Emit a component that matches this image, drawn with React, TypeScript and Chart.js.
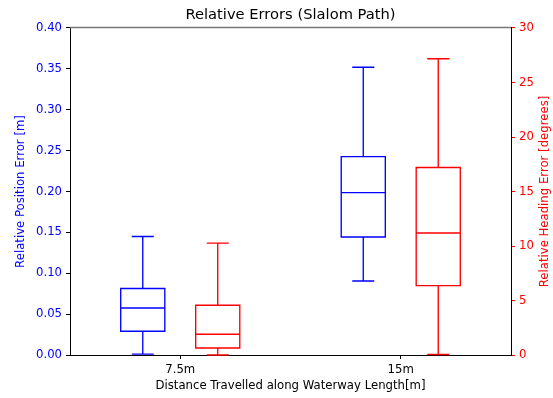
import React, { useEffect, useRef } from 'react';
import { Chart, registerables } from 'chart.js';

Chart.register(...registerables);

// Categories along the x axis
const categories = ['7.5m', '15m'];
const categoryPositions = [1, 2];

// Relative position error [m] (blue, left axis) - box plot statistics
const positionMin = [0.001, 0.0905];
const positionQ1 = [0.029, 0.1443];
const positionMedian = [0.0575, 0.1986];
const positionQ3 = [0.0814, 0.2426];
const positionMax = [0.145, 0.352];

// Relative heading error [degrees] (red, right axis) - box plot statistics
const headingMin = [0.0, 0.05];
const headingQ1 = [0.64, 6.36];
const headingMedian = [1.9, 11.19];
const headingQ3 = [4.56, 17.2];
const headingMax = [10.27, 27.18];

const FONT = 'DejaVu Sans';
const SERIES_OFFSET = 0.17;
const BOX_WIDTH = 0.2;
const RIGHT_TITLE = 'Relative Heading Error [degrees]';

const boxPlugin = {
  id: 'boxPlot',
  afterDatasetsDraw(chart: any) {
    const ctx = chart.ctx;
    const xs = chart.scales.x;
    const series = [
      { axis: 'y', color: 'blue', offset: -SERIES_OFFSET, min: positionMin, q1: positionQ1, med: positionMedian, q3: positionQ3, max: positionMax },
      { axis: 'y2', color: 'red', offset: SERIES_OFFSET, min: headingMin, q1: headingQ1, med: headingMedian, q3: headingQ3, max: headingMax },
    ];
    const halfW = (xs.getPixelForValue(BOX_WIDTH) - xs.getPixelForValue(0)) / 2;
    ctx.save();
    ctx.lineWidth = 1.35;
    for (const s of series) {
      const ys = chart.scales[s.axis];
      ctx.strokeStyle = s.color;
      for (let i = 0; i < categoryPositions.length; i++) {
        const cx = xs.getPixelForValue(categoryPositions[i] + s.offset);
        const pMin = ys.getPixelForValue(s.min[i]);
        const pQ1 = ys.getPixelForValue(s.q1[i]);
        const pMed = ys.getPixelForValue(s.med[i]);
        const pQ3 = ys.getPixelForValue(s.q3[i]);
        const pMax = ys.getPixelForValue(s.max[i]);
        ctx.beginPath();
        ctx.rect(cx - halfW, pQ3, 2 * halfW, pQ1 - pQ3);
        ctx.moveTo(cx - halfW, pMed);
        ctx.lineTo(cx + halfW, pMed);
        ctx.moveTo(cx, pQ3);
        ctx.lineTo(cx, pMax);
        ctx.moveTo(cx, pQ1);
        ctx.lineTo(cx, pMin);
        ctx.moveTo(cx - halfW / 2, pMax);
        ctx.lineTo(cx + halfW / 2, pMax);
        ctx.moveTo(cx - halfW / 2, pMin);
        ctx.lineTo(cx + halfW / 2, pMin);
        ctx.stroke();
      }
    }
    // top spine
    const a = chart.chartArea;
    ctx.strokeStyle = '#777';
    ctx.lineWidth = 1.6;
    ctx.beginPath();
    ctx.moveTo(a.left, a.top - 0.5);
    ctx.lineTo(a.right, a.top - 0.5);
    ctx.stroke();

    // right axis title, reading bottom-to-top
    const y2 = chart.scales.y2;
    ctx.fillStyle = 'red';
    ctx.font = `11.7px "${FONT}"`;
    ctx.textAlign = 'center';
    ctx.textBaseline = 'middle';
    ctx.translate(y2.right - 8, (a.top + a.bottom) / 2);
    ctx.rotate(-Math.PI / 2);
    ctx.fillText(RIGHT_TITLE, 0, 0);
    ctx.restore();
  },
};

export default function App() {
  const ref = useRef<HTMLCanvasElement | null>(null);

  useEffect(() => {
    if (!ref.current) return;
    const chart = new Chart(ref.current, {
      type: 'scatter',
      data: {
        datasets: [
          {
            label: 'Relative Position Error [m]',
            data: categoryPositions.map((p, i) => ({ x: p - SERIES_OFFSET, y: positionMedian[i] })),
            yAxisID: 'y',
            pointRadius: 0,
            borderColor: 'blue',
            backgroundColor: 'blue',
          },
          {
            label: RIGHT_TITLE,
            data: categoryPositions.map((p, i) => ({ x: p + SERIES_OFFSET, y: headingMedian[i] })),
            yAxisID: 'y2',
            pointRadius: 0,
            borderColor: 'red',
            backgroundColor: 'red',
          },
        ],
      },
      options: {
        responsive: false,
        animation: false,
        layout: { padding: 0 },
        plugins: {
          legend: { display: false },
          tooltip: { enabled: false },
          title: {
            display: true,
            fullSize: false,
            text: 'Relative Errors (Slalom Path)',
            color: '#000',
            font: { family: FONT, size: 14.7, weight: 'normal' },
            padding: { top: 6.5, bottom: 3.86 },
          },
        },
        scales: {
          x: {
            type: 'linear',
            min: 0.5,
            max: 2.5,
            afterBuildTicks: (scale: any) => {
              scale.ticks = categoryPositions.map((v) => ({ value: v }));
            },
            afterFit: (scale: any) => {
              scale.height = 43;
            },
            ticks: {
              color: '#000',
              font: { family: FONT, size: 11.7 },
              padding: 4,
              maxRotation: 0,
              autoSkip: false,
              callback: (v: any) => {
                const idx = categoryPositions.indexOf(Number(v));
                return idx >= 0 ? categories[idx] : '';
              },
            },
            grid: { display: true, drawOnChartArea: false, drawTicks: true, tickLength: 4, color: '#000' },
            border: { display: true, color: '#000', width: 1 },
            title: {
              display: true,
              text: 'Distance Travelled along Waterway Length[m]',
              color: '#000',
              font: { family: FONT, size: 11.7 },
              padding: { top: 0, bottom: 5 },
            },
          },
          y: {
            type: 'linear',
            position: 'left',
            min: 0,
            max: 0.4,
            afterFit: (scale: any) => {
              scale.width = 70;
            },
            ticks: {
              stepSize: 0.05,
              color: 'blue',
              font: { family: FONT, size: 11.7 },
              padding: 4,
              callback: (v: any) => Number(v).toFixed(2),
            },
            grid: { display: true, drawOnChartArea: false, drawTicks: true, tickLength: 4, color: '#000' },
            border: { display: true, color: '#000', width: 1 },
            title: {
              display: true,
              text: 'Relative Position Error [m]',
              color: 'blue',
              font: { family: FONT, size: 11.7 },
              padding: { top: 14, bottom: 0 },
            },
          },
          y2: {
            type: 'linear',
            position: 'right',
            min: 0,
            max: 30,
            afterFit: (scale: any) => {
              scale.width = 42;
            },
            ticks: {
              stepSize: 5,
              color: 'red',
              font: { family: FONT, size: 11.7 },
              padding: 4,
            },
            grid: { display: true, drawOnChartArea: false, drawTicks: true, tickLength: 4, color: 'red' },
            border: { display: true, color: '#000', width: 1 },
            title: { display: false },
          },
        },
      },
      plugins: [boxPlugin],
    } as any);
    return () => chart.destroy();
  }, []);

  return (
    <div style={{ position: 'fixed', left: 0, top: 0, width: 553, height: 398, background: '#fff' }}>
      <canvas ref={ref} width={553} height={398} />
    </div>
  );
}
